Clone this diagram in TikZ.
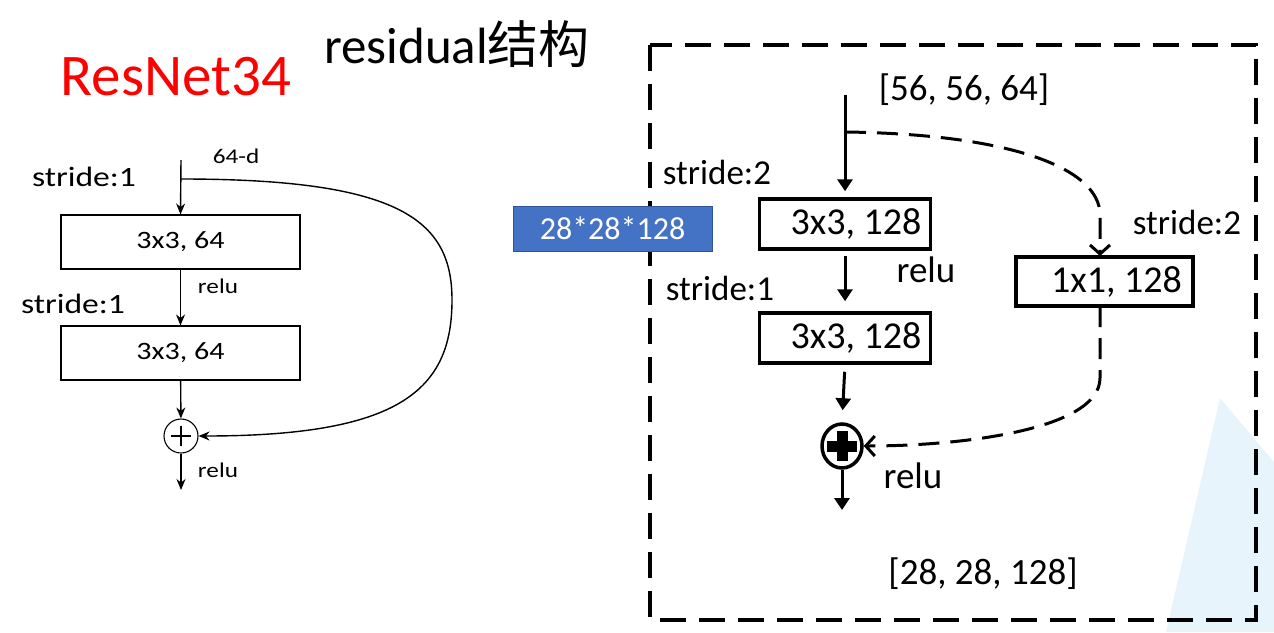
\documentclass[tikz,border=0pt]{standalone}
\usepackage{fontspec}
\setmainfont{Carlito}
\newfontfamily\cjk{Noto Sans CJK SC}
\usetikzlibrary{arrows.meta,calc,shapes.geometric}
\newcommand{\fsz}[1]{\fontsize{#1}{#1}\selectfont}
\newcommand{\stretchx}[1]{\scalebox{1.2}[1]{#1}}
\definecolor{blueC}{HTML}{4472C4}
\definecolor{blueD}{HTML}{2F5597}
\definecolor{lightB}{HTML}{E8F4FC}
\tikzset{
  lbox/.style={draw, line width=1.1pt, minimum width=239pt, minimum height=54pt, inner sep=0pt, font=\fsz{25}},
  larr/.style={-{Stealth[length=11pt,width=9pt]}, line width=1.4pt},
  rbox/.style={draw, line width=3.5pt, minimum width=171pt, minimum height=50pt, inner sep=0pt, font=\fsz{38}},
  rarr/.style={-{Triangle[length=12pt,width=15pt]}, line width=3pt},
  darr/.style={-{Straight Barb[length=9pt,width=20pt]}, line width=3pt, dash pattern=on 21pt off 11pt},
  rlab/.style={font=\fsz{35}, inner sep=0pt},
  llab/.style={font=\fsz{28}, inner sep=0pt},
}
\begin{document}
\begin{tikzpicture}[x=1pt,y=-1pt]
\useasboundingbox (0,0) rectangle (1274,632);
% light blue decoration
\fill[lightB] (1220,398) -- (1274,462) -- (1274,632) -- (1166,632) -- cycle;

% titles
\node[font=\fsz{59}, text=red, inner sep=0pt] (title) at (176,77) {ResNet34};
\node[font=\fsz{51}, inner sep=0pt] (title2) at (457,44) {residual{\cjk 结构}};

% ---------- left diagram ----------
\node[lbox] (b1) at (180.5,242) {\stretchx{3x3, 64}};
\node[lbox] (b2) at (180.5,353) {\stretchx{3x3, 64}};
\node[circle, draw, line width=1.1pt, minimum size=34pt, inner sep=0pt] (p1) at (181,436) {};
\draw[line width=1.1pt] ($(p1.center)+(-10,0)$) -- ($(p1.center)+(10,0)$);
\draw[line width=1.1pt] ($(p1.center)+(0,-10)$) -- ($(p1.center)+(0,10)$);
\coordinate (in1) at (181,160);
\coordinate (s1) at (181,179);
\coordinate (k1) at (452,300);
\coordinate (out1) at (181,490);
\draw[larr] (in1) -- (b1.north);
\draw[larr] (b1) -- (b2);
\draw[larr] (b2) -- (p1);
\draw[larr] (p1) -- (out1);
\draw[larr] (s1) .. controls (400,179) and (452,220) .. (k1) .. controls (452,390) and (400,436) .. (p1.east);
\node[llab] (ls1) at (84,177) {\stretchx{stride:1}};
\node[llab] (ls2) at (73,304) {\stretchx{stride:1}};
\node[font=\fsz{21}, inner sep=0pt] (d64) at (236,156) {\stretchx{64-d}};
\node[font=\fsz{21}, inner sep=0pt] (lr1) at (218,286) {\stretchx{relu}};
\node[font=\fsz{21}, inner sep=0pt] (lr2) at (218,470) {\stretchx{relu}};

% ---------- right diagram ----------
\draw[line width=4pt, dash pattern=on 26pt off 13pt] (650,45) rectangle (1256,620);
\node[rbox] (r1) at (845,224) {\hspace*{22pt}3x3, 128};
\node[rbox] (r2) at (845,338) {\hspace*{22pt}3x3, 128};
\node[rbox, minimum width=177pt, minimum height=49pt] (r3) at (1104.5,281.5) {\hspace*{24pt}1x1, 128};
\node[ellipse, draw, line width=3.5pt, minimum width=40pt, minimum height=44pt, inner sep=0pt] (p2) at (842,446) {};
\fill ($(p2.center)+(-15,-5.5)$) rectangle ($(p2.center)+(15,5.5)$);
\fill ($(p2.center)+(-5.5,-15)$) rectangle ($(p2.center)+(5.5,15)$);

\coordinate (in2) at (845,95);
\coordinate (s2) at (845,132);
\coordinate (k2) at (1100,215);
\coordinate (t3) at (1100,256);
\coordinate (b3) at (1100,306);
\coordinate (k3) at (1100,378);
\coordinate (out2) at (842,510);
\draw[rarr, shorten >=6pt] (in2) -- (r1.north);
\draw[rarr, shorten <=5pt, shorten >=10pt] (r1.south) -- (r2.north);
\draw[rarr, shorten <=7pt, shorten >=12pt] (r2.south) -- (p2.north);
\draw[rarr] (p2.south) -- (out2);
\draw[darr] (s2) .. controls (1010,134) and (1100,168) .. (k2) -- (t3);
\draw[darr] (b3) -- (k3) .. controls (1100,430) and (960,446) .. (p2.east);

\node[rlab, font=\fsz{37}] (sz1) at (964,90) {[56, 56, 64]};
\node[rlab] (st1) at (717,172) {stride:2};
\node[rlab, font=\fsz{37}] (rr1) at (926,270) {relu};
\node[rlab] (st2) at (720,288) {stride:1};
\node[rlab] (st3) at (1187,222) {stride:2};
\node[rlab, font=\fsz{37}] (rr2) at (913,476) {relu};
\node[rlab, font=\fsz{37}] (sz2) at (983,574) {[28, 28, 128]};

\node[fill=blueC, draw=blueD, line width=1pt, minimum width=199pt, minimum height=45pt, inner sep=0pt, text=white, font=\fsz{32}] (dim) at (612.5,228.5) {28*28*128};
\end{tikzpicture}
\end{document}
